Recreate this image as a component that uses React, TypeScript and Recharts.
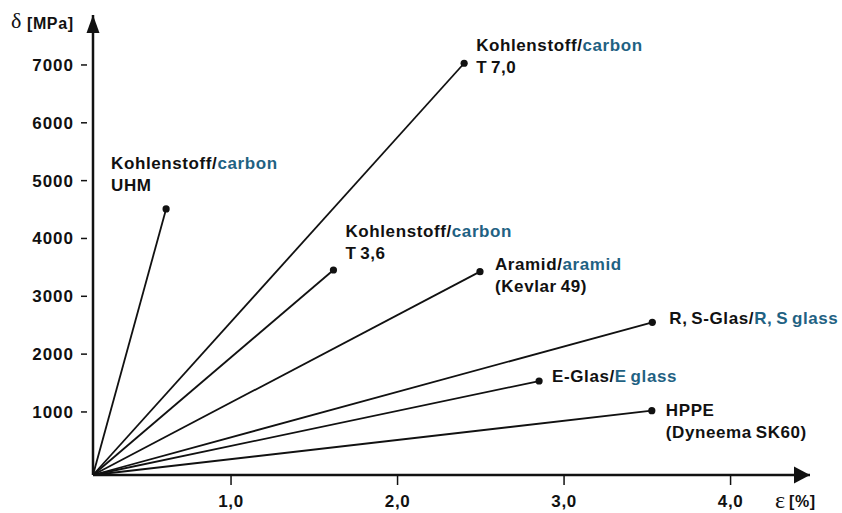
import React from 'react';
import { ComposedChart, Line, XAxis, YAxis, ReferenceDot } from 'recharts';

// fibre materials: german name / english name (blue) / second line
const materialDe = ['Kohlenstoff/', 'Kohlenstoff/', 'Kohlenstoff/', 'Aramid/', 'R, S-Glas/', 'E-Glas/', 'HPPE'];
const materialEn = ['carbon', 'carbon', 'carbon', 'aramid', 'R, S glass', 'E glass', ''];
const materialSub = ['UHM', 'T 7,0', 'T 3,6', '(Kevlar 49)', '', '', '(Dyneema SK60)'];

// end points: elongation ε [%] and strength δ [MPa]
const strain = [0.61, 2.4, 1.615, 2.495, 3.53, 2.85, 3.527];
const strength = [4510, 7030, 3455, 3426, 2550, 1535, 1022];

// the axes cross a bit off the true zero, every line starts at that corner
const originStrain = 0.171;
const originStrength = -90;
const strainMax = 4.477;
const strengthMax = 7864;

const strainTicks = [1, 2, 3, 4];
const strengthTicks = [1000, 2000, 3000, 4000, 5000, 6000, 7000];

// label placement relative to the end dot (px): dx, dy of the first line
const labelPos = [
  [-55, -46],
  [12, -18],
  [12, -39],
  [15, -8],
  [17, -4],
  [13, -5],
  [14, -1],
];

const INK = '#111111';
const BLUE = '#1f6283';
const SANS = '"Liberation Sans", Arial, Helvetica, sans-serif';
const SERIF = '"Liberation Serif", "DejaVu Serif", serif';

const textStyle = {
  fontFamily: SANS,
  fontWeight: 700,
  fontSize: 17,
  letterSpacing: 0.6,
  wordSpacing: -1.5,
};

const YTick = (props: any) => {
  const { x, y, payload } = props;
  return (
    <g>
      <text x={x - 19} y={y} dy={6} textAnchor="end" fill={INK} style={{ ...textStyle, letterSpacing: 1 }}>
        {payload.value}
      </text>
      <line x1={x - 12} x2={x - 6} y1={y} y2={y} stroke={INK} strokeWidth={1.5} />
    </g>
  );
};

const XTick = (props: any) => {
  const { x, y, payload } = props;
  return (
    <text x={x} y={y} dy={20} textAnchor="middle" fill={INK} style={textStyle}>
      {payload.value.toFixed(1).replace('.', ',')}
    </text>
  );
};

const endDot = (i: number) => (props: any) => {
  const { cx, cy, index } = props;
  if (index !== 1) return <g key={`d${i}-${index}`} />;
  const [dx, dy] = labelPos[i];
  return (
    <g key={`d${i}-${index}`}>
      <circle cx={cx} cy={cy} r={3.6} fill={INK} />
      <text x={cx + dx} y={cy + dy} dy={6} fill={INK} style={textStyle}>
        <tspan>{materialDe[i]}</tspan>
        {materialEn[i] && <tspan fill={BLUE}>{materialEn[i]}</tspan>}
      </text>
      {materialSub[i] && (
        <text x={cx + dx} y={cy + dy + 22} dy={6} fill={INK} style={textStyle}>
          {materialSub[i]}
        </text>
      )}
    </g>
  );
};

const upArrow = (p: any) => (
  <path d={`M${p.cx},${p.cy} l-6.5,18 h13 z`} fill={INK} />
);
const rightArrow = (p: any) => (
  <path d={`M${p.cx},${p.cy} l-16,-8.5 v17 z`} fill={INK} />
);

export default function App() {
  return (
    <div style={{ position: 'absolute', left: 0, top: 0, background: '#fff' }}>
      <ComposedChart width={842} height={513} margin={{ top: 15, right: 32, bottom: 0, left: 33 }}>
        <XAxis
          type="number"
          dataKey="e"
          domain={[originStrain, strainMax]}
          ticks={strainTicks}
          height={38}
          axisLine={{ stroke: INK, strokeWidth: 2.5 }}
          tickLine={{ stroke: INK, strokeWidth: 1.5 }}
          tickSize={10}
          tick={<XTick />}
          label={() => (
            <g>
              <text x={775} y={508} fill={INK} fontFamily={SERIF} fontSize={24}>ε</text>
              <text x={789} y={507} fill={INK} style={{ ...textStyle, fontSize: 16 }}>[%]</text>
            </g>
          )}
        />
        <YAxis
          type="number"
          dataKey="s"
          domain={[originStrength, strengthMax]}
          ticks={strengthTicks}
          width={60}
          axisLine={{ stroke: INK, strokeWidth: 2.5 }}
          tickLine={false}
          tickSize={0}
          tickMargin={0}
          tick={<YTick />}
          label={() => (
            <g>
              <text x={11} y={28} fill={INK} fontFamily={SERIF} fontSize={22}>δ</text>
              <text x={27} y={29} fill={INK} style={{ ...textStyle, fontSize: 16 }}>[MPa]</text>
            </g>
          )}
        />
        {strain.map((e, i) => (
          <Line
            key={i}
            type="linear"
            data={[
              { e: originStrain, s: originStrength },
              { e, s: strength[i] },
            ]}
            dataKey="s"
            stroke={INK}
            strokeWidth={1.8}
            dot={endDot(i)}
            activeDot={false}
            isAnimationActive={false}
          />
        ))}
        <ReferenceDot x={originStrain} y={strengthMax} r={0} ifOverflow="visible" shape={upArrow} />
        <ReferenceDot x={strainMax} y={originStrength} r={0} ifOverflow="visible" shape={rightArrow} />
      </ComposedChart>
    </div>
  );
}
